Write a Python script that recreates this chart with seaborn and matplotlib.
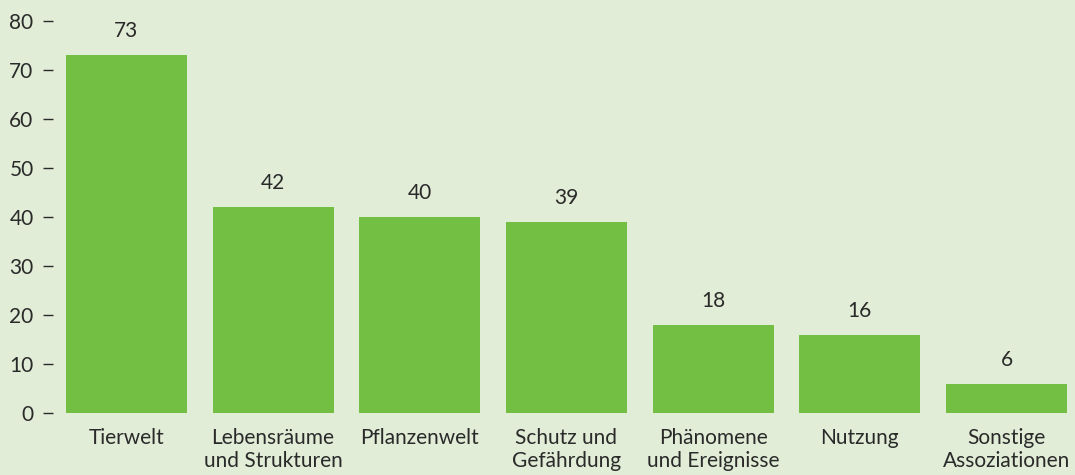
import pandas as pd
import seaborn as sns
import matplotlib.pyplot as plt

# chart data
categories = ['Tierwelt', 'Lebensräume\nund Strukturen', 'Pflanzenwelt',
              'Schutz und\nGefährdung', 'Phänomene\nund Ereignisse', 'Nutzung',
              'Sonstige\nAssoziationen']
counts = [73, 42, 40, 39, 18, 16, 6]
y_ticks = [0, 10, 20, 30, 40, 50, 60, 70, 80]

bg = '#e1edd6'
bar_color = '#72bf44'
text_color = '#2a2a2a'

df = pd.DataFrame({'Kategorie': categories, 'Anzahl': counts})

sns.set_style('white')
plt.rcParams['font.family'] = ['Lato', 'DejaVu Sans']
fs = 15

fig = plt.figure(figsize=(10.75, 4.75), dpi=100, facecolor=bg)
ax = fig.add_axes([53 / 1075, 62 / 475, 1 - 53 / 1075, 392 / 475])
ax.set_facecolor(bg)

sns.barplot(data=df, x='Kategorie', y='Anzahl', color=bar_color,
            width=0.825, saturation=1, linewidth=0, ax=ax)

for i, v in enumerate(counts):
    ax.annotate(str(v), (i, v), xytext=(0, 10), textcoords='offset points',
                ha='center', va='bottom', color=text_color, fontsize=fs)

ax.set_ylim(0, 80)
ax.set_xlim(-0.5, 6.467)
ax.set_yticks(y_ticks)
ax.set_xlabel('')
ax.set_ylabel('')
for s in ax.spines.values():
    s.set_visible(False)
ax.tick_params(axis='y', left=True, length=7.5, width=1, color=text_color,
               pad=6.5, labelcolor=text_color, labelsize=fs)
ax.tick_params(axis='x', bottom=False, length=0, pad=11,
               labelcolor=text_color, labelsize=fs)
for lbl in ax.get_xticklabels():
    lbl.set_linespacing(1.15)

fig.savefig('out.png', dpi=100, facecolor=bg)
